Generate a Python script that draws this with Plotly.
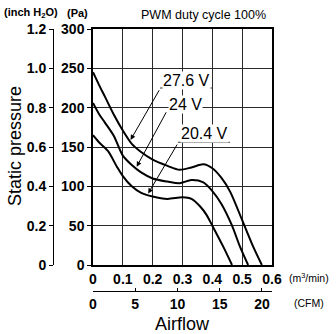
import plotly.graph_objects as go

# ---- data ----
flow_276 = [0, 0.02, 0.04, 0.07, 0.1, 0.13, 0.16, 0.2, 0.25, 0.29, 0.33, 0.37, 0.40, 0.43, 0.46, 0.5, 0.535, 0.566]
pa_276 = [245, 229, 214, 191, 171, 154, 144, 134, 126, 121, 124, 128, 123, 111, 93, 57, 25, 0]

flow_24 = [0, 0.02, 0.04, 0.07, 0.1, 0.13, 0.16, 0.2, 0.25, 0.29, 0.33, 0.37, 0.40, 0.43, 0.465, 0.493, 0.52]
pa_24 = [206, 192, 181, 164, 139, 127, 118, 110, 106, 104, 108, 105, 94, 78, 51, 23, 0]

flow_204 = [0, 0.02, 0.05, 0.08, 0.1, 0.13, 0.16, 0.2, 0.25, 0.3, 0.33, 0.36, 0.38, 0.40, 0.437, 0.466]
pa_204 = [165, 156, 145, 125, 113, 100, 92, 87, 84, 86, 84, 74, 64, 50, 23, 0]

series_names = ["27.6 V", "24 V", "20.4 V"]

pa_ticks = [0, 50, 100, 150, 200, 250, 300]
inch_ticks = [0, 0.2, 0.4, 0.6, 0.8, 1.0, 1.2]
inch_labels = ["0", "0.2", "0.4", "0.6", "0.8", "1.0", "1.2"]
m3_ticks = [0, 0.1, 0.2, 0.3, 0.4, 0.5, 0.6]
m3_labels = ["0", "0.1", "0.2", "0.3", "0.4", "0.5", "0.6"]
cfm_ticks = [0, 5, 10, 15, 20]
CFM_PER_M3MIN = 1 / 0.0283168

# label placement (data coords): text centre, underline span, arrow tail, arrow tip
label_text_pos = [(0.312, 234), (0.31, 204), (0.374, 167)]
label_underline = [(0.2246, 0.402, 225), None, (0.285, 0.459, 156)]
arrow_tail = [(0.2246, 224), (0.248, 196), (0.285, 155)]
arrow_tip = [(0.126, 159), (0.1465, 125), (0.185, 91)]

W, H = 336, 334


def px(x):
    return x / W


def py(y):
    return (H - y) / H


TICKFONT = dict(family="Liberation Sans Narrow, Arial Narrow, Liberation Sans", size=14,
                color="black", weight="bold")
TXT = "Liberation Sans, Arial, sans-serif"
GRID = "#2a2a2a"

fig = go.Figure()
for xs, ys, name in zip([flow_276, flow_24, flow_204], [pa_276, pa_24, pa_204], series_names):
    fig.add_trace(go.Scatter(x=xs, y=ys, mode="lines", name=name,
                             line=dict(color="black", width=2, shape="spline", smoothing=0.8),
                             hoverinfo="skip"))
# helper traces so the secondary axes are drawn
fig.add_trace(go.Scatter(x=[None], y=[None], yaxis="y2", showlegend=False))
fig.add_trace(go.Scatter(x=[None], y=[None], xaxis="x2", showlegend=False))

fig.update_layout(
    template="none",
    width=W, height=H,
    margin=dict(l=0, r=0, t=0, b=0, pad=0, autoexpand=False),
    paper_bgcolor="white", plot_bgcolor="white",
    showlegend=False,
    font=dict(family=TXT, color="black"),
    xaxis=dict(domain=[px(93), px(272)], range=[0, 0.6], tickvals=m3_ticks, ticktext=m3_labels,
               showgrid=True, gridcolor=GRID, gridwidth=1, zeroline=False,
               showline=True, linecolor="black", linewidth=1.5, mirror=True,
               ticks="", ticklabelstandoff=0,
               tickfont=TICKFONT, anchor="y", automargin=False),
    yaxis=dict(domain=[py(265), py(29)], range=[0, 300], tickvals=pa_ticks,
               showgrid=True, gridcolor=GRID, gridwidth=1, zeroline=False,
               showline=True, linecolor="black", linewidth=1.5, mirror=True,
               ticks="outside", ticklen=4, tickcolor="black",
               tickfont=TICKFONT, anchor="x", automargin=False),
    yaxis2=dict(overlaying="y", anchor="free", position=px(53), side="left",
                range=[0, 1.2], tickvals=inch_ticks, ticktext=inch_labels,
                showgrid=False, zeroline=False, showline=True, linecolor="black", linewidth=1,
                ticks="outside", ticklen=4, tickcolor="black", tickfont=TICKFONT, automargin=False),
    xaxis2=dict(overlaying="x", anchor="free", position=py(291), side="bottom",
                range=[0, 0.6 * CFM_PER_M3MIN], tickvals=cfm_ticks,
                showgrid=False, zeroline=False, showline=True, linecolor="black", linewidth=1,
                ticks="inside", ticklen=3, tickcolor="black", tickfont=TICKFONT, automargin=False),
)

shapes = []
annotations = []
for i, name in enumerate(series_names):
    tx, ty = label_text_pos[i]
    annotations.append(dict(x=tx, y=ty, xref="x", yref="y", text=name, showarrow=False,
                            xanchor="center", yanchor="middle",
                            font=dict(family=TXT, size=16, color="black"),
                            bgcolor="white", borderpad=0))
    ul = label_underline[i]
    if ul is not None:
        shapes.append(dict(type="line", xref="x", yref="y", x0=ul[0], x1=ul[1], y0=ul[2], y1=ul[2],
                           line=dict(color="#333333", width=1)))
    annotations.append(dict(x=arrow_tip[i][0], y=arrow_tip[i][1], ax=arrow_tail[i][0], ay=arrow_tail[i][1],
                            xref="x", yref="y", axref="x", ayref="y", text="", showarrow=True,
                            arrowhead=2, arrowsize=1, arrowwidth=1, arrowcolor="black", standoff=0))


def note(x, y, text, size, xanchor="center", bold=False, angle=0):
    return dict(x=px(x), y=py(y), xref="paper", yref="paper", text=text, showarrow=False,
                xanchor=xanchor, yanchor="middle", textangle=angle,
                font=dict(family=TXT, size=size, color="black", weight="bold" if bold else "normal"))


annotations += [
    note(31, 13, "(inch H<sub>2</sub>O)", 11, bold=True),
    note(77.5, 13, "(Pa)", 11, bold=True),
    note(204, 15, "PWM duty cycle 100%", 12.5),
    note(287, 277, "(m<sup>3</sup>/min)", 10.5, xanchor="left"),
    note(292, 303, "(CFM)", 10.5, xanchor="left"),
    note(182.5, 324, "Airflow", 18),
    note(15, 146, "Static pressure", 18, angle=-90),
]

fig.update_layout(shapes=shapes, annotations=annotations)
fig.write_html("out.html")
